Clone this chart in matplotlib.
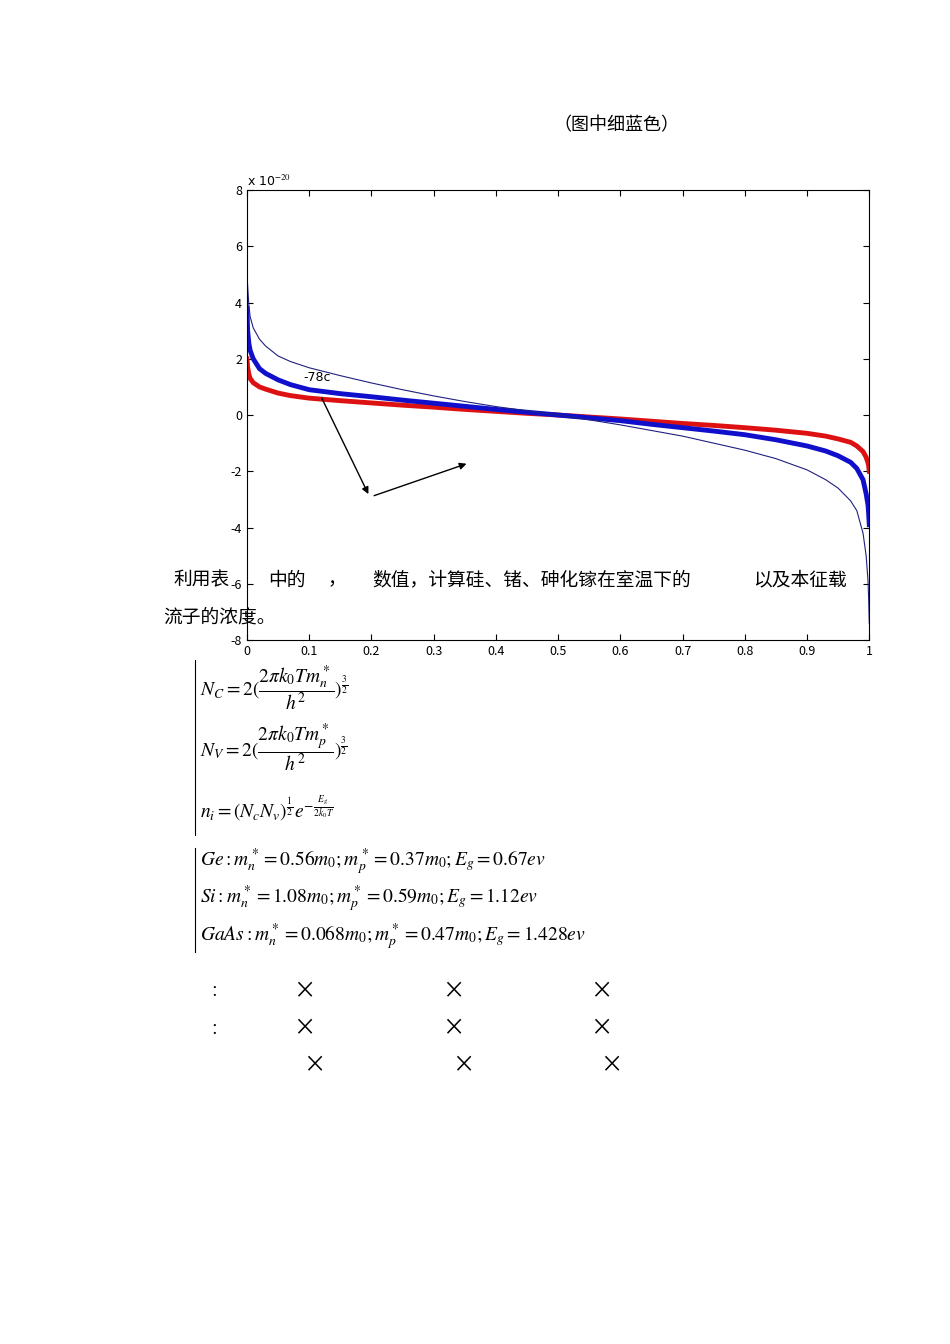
import matplotlib
matplotlib.use("Agg")
import matplotlib.pyplot as plt

plt.rcParams['font.family'] = ['Noto Sans CJK SC', 'DejaVu Sans']
plt.rcParams['mathtext.fontset'] = 'stix'

# read values (units of 1e-20)
x_left = [0.0, 0.001, 0.003, 0.005, 0.01, 0.02, 0.03, 0.05, 0.07, 0.1, 0.15, 0.2, 0.25, 0.3, 0.35, 0.4, 0.45, 0.5]
thin_left = [5.0, 4.6, 3.9, 3.5, 3.1, 2.7, 2.45, 2.1, 1.9, 1.68, 1.4, 1.14, 0.9, 0.68, 0.48, 0.3, 0.15, 0.0]
thick_left = [3.8, 3.0, 2.55, 2.3, 2.0, 1.65, 1.48, 1.25, 1.08, 0.9, 0.76, 0.65, 0.53, 0.42, 0.31, 0.2, 0.1, 0.0]
red_left = [2.0, 1.7, 1.45, 1.3, 1.15, 1.0, 0.92, 0.78, 0.69, 0.6, 0.51, 0.43, 0.35, 0.28, 0.2, 0.13, 0.06, 0.0]
x_right = [0.55, 0.6, 0.65, 0.7, 0.75, 0.8, 0.85, 0.9, 0.93, 0.95, 0.97, 0.98, 0.99, 0.995, 0.998, 0.999, 1.0]
thin_right = [-0.17, -0.35, -0.55, -0.75, -1.0, -1.25, -1.55, -1.95, -2.3, -2.6, -3.05, -3.4, -4.2, -5.0, -5.9, -6.5, -7.4]
thick_right = [-0.1, -0.2, -0.33, -0.45, -0.57, -0.7, -0.88, -1.1, -1.28, -1.45, -1.68, -1.9, -2.3, -2.8, -3.2, -3.5, -3.9]
red_right = [-0.07, -0.14, -0.22, -0.3, -0.37, -0.45, -0.54, -0.65, -0.75, -0.85, -0.97, -1.1, -1.3, -1.5, -1.7, -1.8, -2.0]
xticks = [0, 0.1, 0.2, 0.3, 0.4, 0.5, 0.6, 0.7, 0.8, 0.9, 1]
yticks = [-8, -6, -4, -2, 0, 2, 4, 6, 8]

fig = plt.figure(figsize=(9.5, 13.44), dpi=100)
ax = fig.add_axes([0.26, 0.5238, 0.655, 0.3348])
xs = x_left + x_right
ax.plot(xs, red_left + red_right, color='#dd1111', lw=3.5, solid_joinstyle='round')
ax.plot(xs, thick_left + thick_right, color='#1010cc', lw=3.5, solid_joinstyle='round')
ax.plot(xs, thin_left + thin_right, color='#202080', lw=0.8)
ax.set_xlim(0, 1); ax.set_ylim(-8, 8)
ax.set_xticks(xticks); ax.set_yticks(yticks)
ax.set_xticklabels([f"{t:g}" for t in xticks])
ax.set_yticklabels([f"{t:g}" for t in yticks])
ax.tick_params(direction='in', top=True, right=True, labelsize=9, length=4)
ax.text(0, 1.01, r'x 10$^{-20}$', transform=ax.transAxes, fontsize=9, family='DejaVu Sans')
ax.text(0.09, 1.2, '-78c', fontsize=9, family='DejaVu Sans')
ax.annotate('', xy=(0.197, -2.9), xytext=(0.118, 0.7),
            arrowprops=dict(arrowstyle='-|>', color='k', lw=1))
ax.annotate('', xy=(0.357, -1.7), xytext=(0.2, -2.9),
            arrowprops=dict(arrowstyle='-|>', color='k', lw=1))

def T(x, y, s, **kw):
    fig.text(x/950, 1 - y/1344, s, va='center', **kw)

T(553, 125, '（图中细蓝色）', fontsize=13)
T(173, 580, '利用表', fontsize=13.5)
T(268, 580, '中的', fontsize=13.5)
T(328, 580, '，', fontsize=13.5)
T(372, 580, '数值，计算硅、锗、砷化镓在室温下的', fontsize=13.5)
T(753, 580, '以及本征载', fontsize=13.5)
T(163, 617, '流子的浓度。', fontsize=13.5)

fs = 14
T(200, 688, r'$N_C = 2(\dfrac{2\pi k_0Tm_n^*}{h^2})^{\frac{3}{2}}$', fontsize=fs)
T(200, 748, r'$N_V = 2(\dfrac{2\pi k_0Tm_p^*}{h^2})^{\frac{3}{2}}$', fontsize=fs)
T(200, 808, r'$n_i = (N_cN_v)^{\frac{1}{2}}e^{-\frac{E_g}{2k_0T}}$', fontsize=fs)
fig.add_artist(plt.Line2D([195/950, 195/950], [1-660/1344, 1-835/1344], color='k', lw=0.8))
T(200, 862, r'$Ge: m_n^* = 0.56m_0; m_p^* = 0.37m_0; E_g = 0.67ev$', fontsize=fs)
T(200, 899, r'$Si: m_n^* = 1.08m_0; m_p^* = 0.59m_0; E_g = 1.12ev$', fontsize=fs)
T(200, 937, r'$GaAs: m_n^* = 0.068m_0; m_p^* = 0.47m_0; E_g = 1.428ev$', fontsize=fs)
fig.add_artist(plt.Line2D([195/950, 195/950], [1-848/1344, 1-952/1344], color='k', lw=0.8))

for y, xsx, colon in [(992, [293, 442, 590], True), (1029, [293, 442, 590], True), (1066, [303, 452, 600], False)]:
    if colon:
        T(210, y, '：', fontsize=11)
    for xx in xsx:
        T(xx, y, '×', fontsize=16)

fig.savefig('out.png', dpi=100, facecolor='white')
